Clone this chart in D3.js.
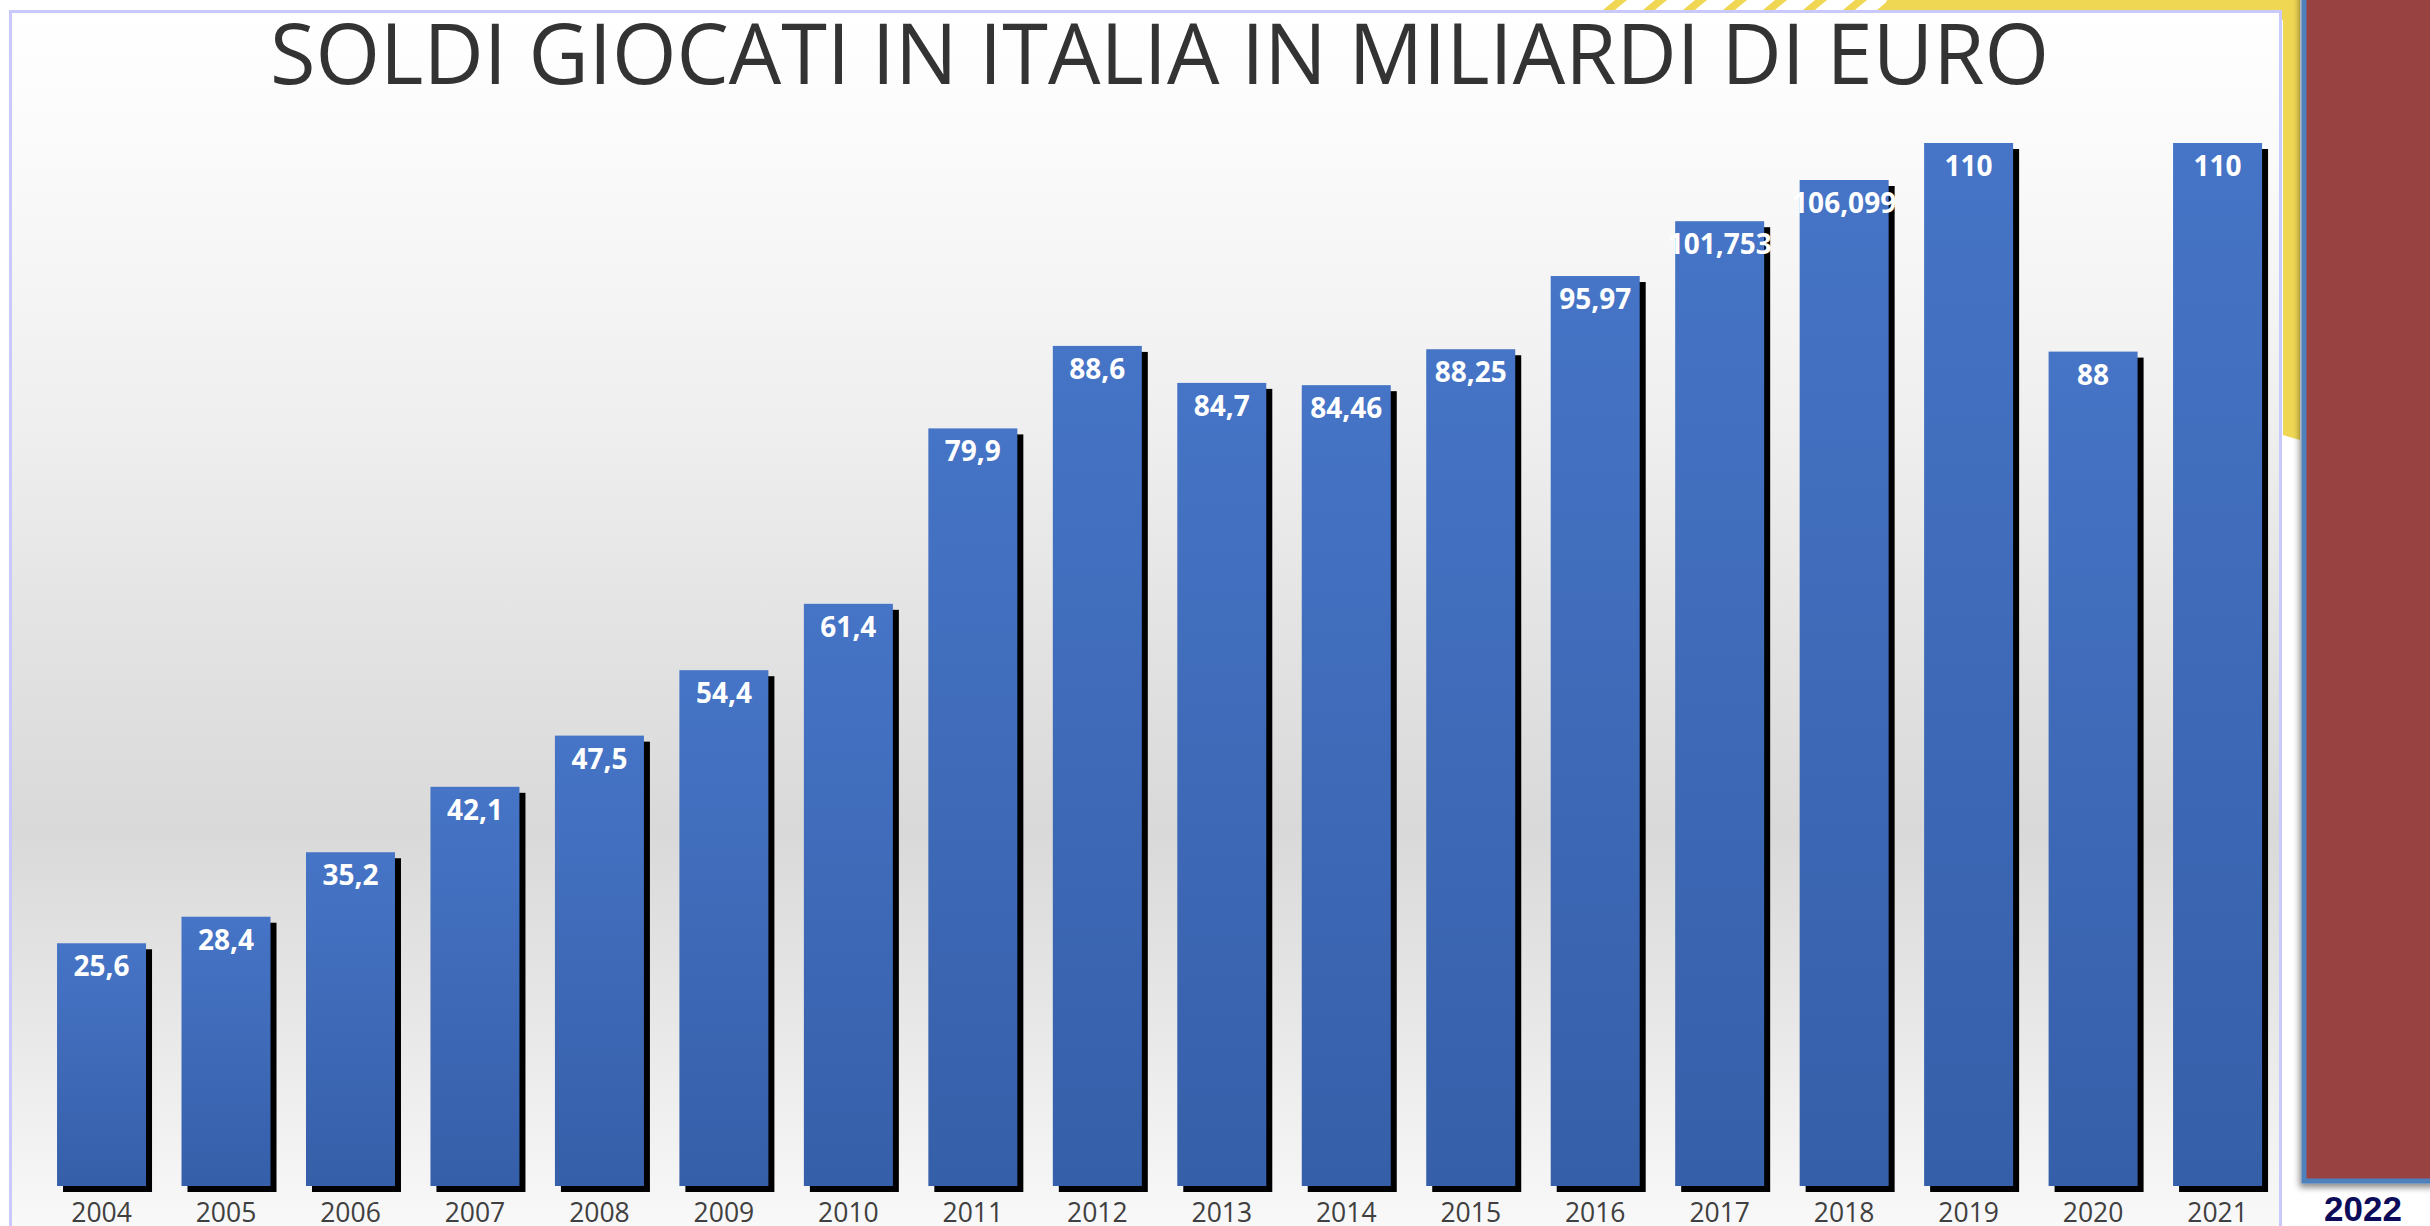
<!DOCTYPE html>
<html>
<head>
<meta charset="utf-8">
<script src="https://cdn.jsdelivr.net/npm/d3@7"></script>
<style>
  html, body { margin: 0; padding: 0; background: #ffffff; }
  svg { display: block; }
</style>
</head>
<body>
<svg id="chart" width="2430" height="1226"></svg>
<script>
// data
var years = ["2004", "2005", "2006", "2007", "2008", "2009", "2010", "2011", "2012",
             "2013", "2014", "2015", "2016", "2017", "2018", "2019", "2020", "2021"];
var values = [25.6, 28.4, 35.2, 42.1, 47.5, 54.4, 61.4, 79.9, 88.6,
              84.7, 84.46, 88.25, 95.97, 101.753, 106.099, 110, 88, 110];
var title = "SOLDI GIOCATI IN ITALIA IN MILIARDI DI EURO";
var sideLabel = "2022";

var svg = d3.select("#chart"),
    width = +svg.attr("width"),
    height = +svg.attr("height");

var defs = svg.append("defs");

// background of the chart area
var bg = defs.append("linearGradient")
    .attr("id", "bgGrad").attr("x1", 0).attr("y1", 0).attr("x2", 0).attr("y2", 1);
[[0, "#ffffff"], [0.12, "#fafafa"], [0.33, "#efefef"], [0.5, "#e3e3e3"],
 [0.66, "#d9d9d9"], [0.8, "#e6e6e6"], [1, "#fbfbfb"]].forEach(function(s) {
  bg.append("stop").attr("offset", s[0]).attr("stop-color", s[1]);
});

var barGrad = defs.append("linearGradient")
    .attr("id", "barGrad").attr("x1", 0).attr("y1", 0).attr("x2", 0).attr("y2", 1);
barGrad.append("stop").attr("offset", 0).attr("stop-color", "#4674c6");
barGrad.append("stop").attr("offset", 1).attr("stop-color", "#365fa9");

var shadow = defs.append("filter").attr("id", "panelShadow")
    .attr("x", "-20%").attr("y", "-5%").attr("width", "140%").attr("height", "110%");
shadow.append("feDropShadow")
    .attr("dx", -2).attr("dy", 4).attr("stdDeviation", 3)
    .attr("flood-color", "#000").attr("flood-opacity", 0.45);

// yellow decoration behind the frame
svg.append("polygon")
    .attr("points", "1887,0 2300,0 2300,440 2283,435 2283,20 1880,20")
    .attr("fill", "#efd653");
svg.append("g").selectAll("polygon")
    .data(d3.range(1603, 1887, 40))
    .enter().append("polygon")
    .attr("points", function(d) { return [d, 10, d + 12, 10, d + 24, 0, d + 12, 0].join(","); })
    .attr("fill", "#efd653");
svg.append("polygon")
    .attr("points", "1877,10 1889,0 1900,0 1900,10")
    .attr("fill", "#efd653");

// chart frame
svg.append("rect")
    .attr("x", 10.5).attr("y", 11.5)
    .attr("width", 2270).attr("height", 1240)
    .attr("fill", "url(#bgGrad)")
    .attr("stroke", "#c9c9fb").attr("stroke-width", 3);

// red side panel
svg.append("rect")
    .attr("x", 2304).attr("y", -20)
    .attr("width", 200).attr("height", 1201)
    .attr("fill", "#994242")
    .attr("stroke", "#4f81bd").attr("stroke-width", 5)
    .attr("filter", "url(#panelShadow)");

svg.append("text")
    .attr("x", 2363).attr("y", 1221)
    .attr("text-anchor", "middle")
    .attr("font-family", "'Liberation Sans', Arial, sans-serif")
    .attr("font-weight", "bold")
    .attr("font-size", 35)
    .attr("fill", "#0c0c5a")
    .text(sideLabel);

// title
svg.append("text")
    .attr("x", 1159.5).attr("y", 84)
    .attr("text-anchor", "middle")
    .attr("font-family", "'Open Sans', sans-serif")
    .attr("font-size", 84)
    .attr("fill", "#333333")
    .attr("textLength", 1779)
    .attr("lengthAdjust", "spacingAndGlyphs")
    .text(title);

// scales
var x = d3.scaleBand()
    .domain(years)
    .range([39.3, 2279.8])
    .paddingInner(0.285)
    .paddingOuter(0.1425);

var y = d3.scaleLinear()
    .domain([0, 110])
    .range([1186, 143]);

var bars = svg.append("g");

// black offset shadows
bars.selectAll("rect.shadow")
    .data(values)
    .enter().append("rect")
    .attr("class", "shadow")
    .attr("x", function(d, i) { return x(years[i]) + 6; })
    .attr("y", function(d) { return y(d) + 6; })
    .attr("width", x.bandwidth())
    .attr("height", function(d) { return y(0) - y(d); })
    .attr("fill", "#000000");

bars.selectAll("rect.bar")
    .data(values)
    .enter().append("rect")
    .attr("class", "bar")
    .attr("x", function(d, i) { return x(years[i]); })
    .attr("y", function(d) { return y(d); })
    .attr("width", x.bandwidth())
    .attr("height", function(d) { return y(0) - y(d); })
    .attr("fill", "url(#barGrad)");

// value labels inside bars
bars.selectAll("text.val")
    .data(values)
    .enter().append("text")
    .attr("class", "val")
    .attr("x", function(d, i) { return x(years[i]) + x.bandwidth() / 2; })
    .attr("y", function(d) { return y(d) + 33; })
    .attr("text-anchor", "middle")
    .attr("font-family", "'Open Sans', sans-serif")
    .attr("font-weight", "bold")
    .attr("font-size", 28)
    .attr("fill", "#ffffff")
    .text(function(d) { return String(d).replace(".", ","); });

// category axis
var xAxis = svg.append("g")
    .attr("transform", "translate(0,1186)")
    .call(d3.axisBottom(x).tickSize(0).tickPadding(9));
xAxis.select(".domain").remove();
xAxis.selectAll("text")
    .attr("dy", null)
    .attr("y", 35.5)
    .attr("font-family", "'Open Sans', sans-serif")
    .attr("font-size", 26.5)
    .attr("fill", "#404040");
</script>
</body>
</html>
